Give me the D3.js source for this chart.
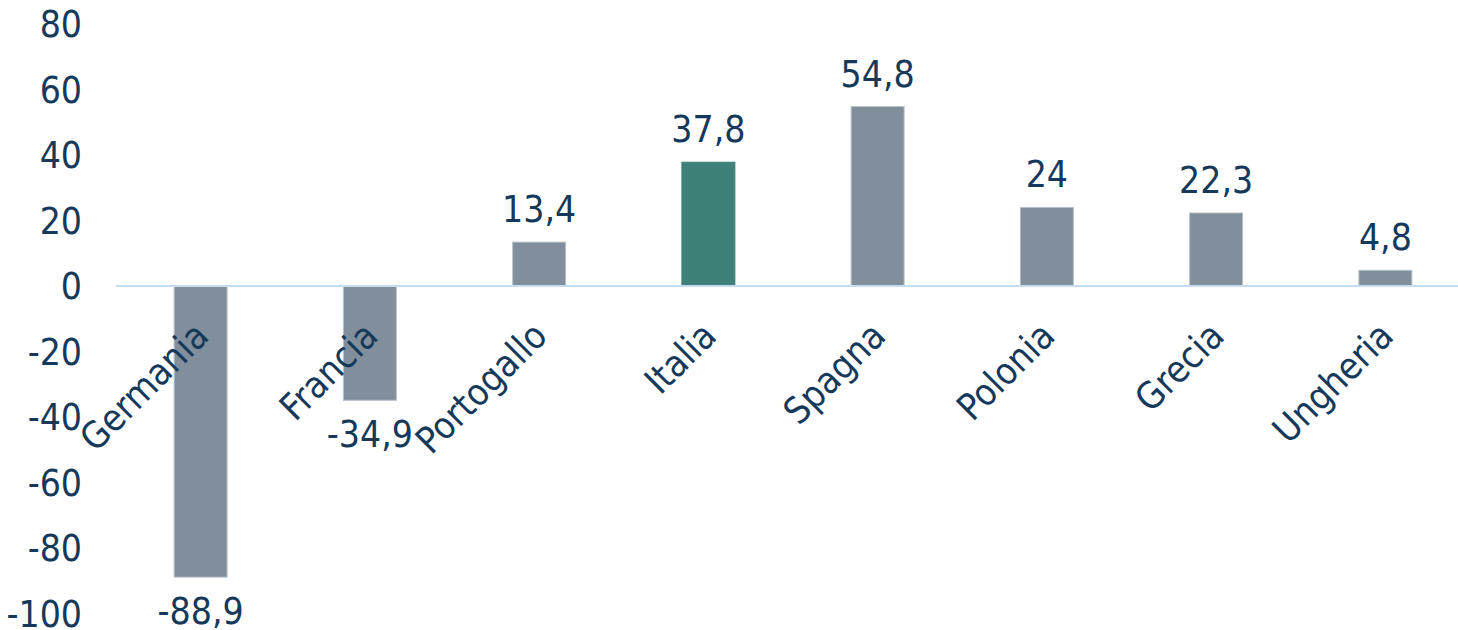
<!DOCTYPE html>
<html>
<head>
<meta charset="utf-8">
<script src="https://cdn.jsdelivr.net/npm/d3@7"></script>
<style>
  body { margin: 0; background: #fff; }
  text { font-family: "DejaVu Sans Condensed", "DejaVu Sans", Verdana, sans-serif; fill: #15395b; }
</style>
</head>
<body>
<div id="chart"></div>
<script>
const countries = ["Germania", "Francia", "Portogallo", "Italia", "Spagna", "Polonia", "Grecia", "Ungheria"];
const values = [-88.9, -34.9, 13.4, 37.8, 54.8, 24, 22.3, 4.8];
const highlight = "Italia";
const yTicks = [80, 60, 40, 20, 0, -20, -40, -60, -80, -100];

const data = countries.map((c, i) => ({ country: c, value: values[i] }));

const width = 1458;
const height = 630;
const fontSize = 37;

const svg = d3.select("#chart")
              .append("svg")
              .attr("width", width)
              .attr("height", height);

const x = d3.scaleBand()
            .domain(countries)
            .range([116, 1470])
            .paddingInner(0.687)
            .paddingOuter(0.3435);

const y = d3.scaleLinear()
            .domain([-100, 80])
            .range([613.5, 24]);

const fmt = v => String(v).replace(".", ",");

// y tick labels
svg.selectAll("text.ytick")
   .data(yTicks)
   .enter()
   .append("text")
   .attr("class", "ytick")
   .attr("x", 82)
   .attr("y", d => y(d))
   .attr("dy", "0.36em")
   .attr("text-anchor", "end")
   .style("font-size", fontSize + "px")
   .text(d => d);

// bars
svg.selectAll("rect")
   .data(data)
   .enter()
   .append("rect")
   .attr("x", d => x(d.country))
   .attr("y", d => y(Math.max(0, d.value)))
   .attr("width", x.bandwidth())
   .attr("height", d => Math.abs(y(d.value) - y(0)))
   .attr("fill", d => d.country === highlight ? "#3e8179" : "#818e9b")
   .attr("stroke", d => d.country === highlight ? "#3e8179" : "#b9c1c9")
   .attr("stroke-width", 1);

// zero line
svg.append("line")
   .attr("x1", 116)
   .attr("x2", width)
   .attr("y1", y(0))
   .attr("y2", y(0))
   .attr("stroke", "#c6ddf1")
   .attr("stroke-width", 2);

// value labels
svg.selectAll("text.val")
   .data(data)
   .enter()
   .append("text")
   .attr("class", "val")
   .attr("x", d => x(d.country) + x.bandwidth() / 2)
   .attr("y", d => d.value >= 0 ? y(d.value) - 20 : y(d.value) + 47)
   .attr("text-anchor", "middle")
   .style("font-size", fontSize + "px")
   .text(d => fmt(d.value));

// category labels, rotated
svg.selectAll("text.cat")
   .data(countries)
   .enter()
   .append("text")
   .attr("class", "cat")
   .attr("text-anchor", "end")
   .attr("transform", d => `translate(${x(d) + x.bandwidth() / 2 + 10},${y(0) + 52}) rotate(-45)`)
   .style("font-size", fontSize + "px")
   .text(d => d);
</script>
</body>
</html>
